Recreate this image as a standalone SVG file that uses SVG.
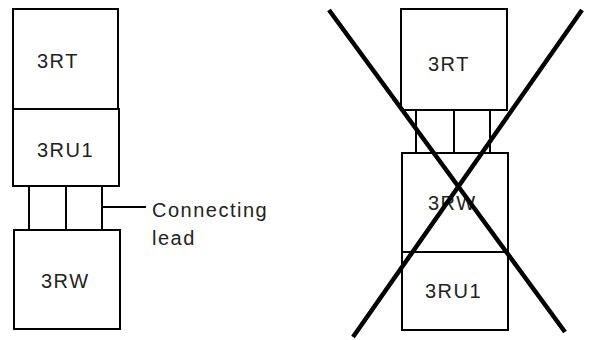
<svg xmlns="http://www.w3.org/2000/svg" width="592" height="340" viewBox="0 0 592 340">
  <style>
    .box { fill: #fff; stroke: #000; stroke-width: 2; }
    .lead { stroke: #000; stroke-width: 2; fill: none; }
    .cross { stroke: #000; stroke-width: 4.5; fill: none; }
    .lbl { font-family: "Liberation Sans", Arial, sans-serif; font-size: 20px; letter-spacing: 1.5px; fill: #222; }
  </style>
  <rect width="592" height="340" fill="#fff"/>

  <!-- correct arrangement -->
  <g id="connectors-left">
    <line class="lead" x1="29" y1="186" x2="29" y2="230"/>
    <line class="lead" x1="66" y1="186" x2="66" y2="230"/>
    <line class="lead" x1="102" y1="186" x2="102" y2="231"/>
    <line class="lead" x1="103" y1="207" x2="146" y2="207"/>
  </g>
  <g id="left-3RT">
    <rect class="box" x="13" y="9" width="105" height="100"/>
    <text class="lbl" x="37" y="68">3RT</text>
  </g>
  <g id="left-3RU1">
    <rect class="box" x="13" y="109" width="106" height="77"/>
    <text class="lbl" x="37" y="157">3RU1</text>
  </g>
  <g id="left-3RW">
    <rect class="box" x="14" y="230" width="106" height="99"/>
    <text class="lbl" x="41" y="288">3RW</text>
  </g>
  <g id="lead-label">
    <text class="lbl" x="152" y="217">Connecting</text>
    <text class="lbl" x="152" y="245">lead</text>
  </g>

  <!-- wrong arrangement -->
  <g id="connectors-right">
    <line class="lead" x1="416" y1="110" x2="416" y2="153"/>
    <line class="lead" x1="454" y1="110" x2="454" y2="153"/>
    <line class="lead" x1="490" y1="110" x2="490" y2="155"/>
  </g>
  <g id="right-3RT">
    <rect class="box" x="401" y="9" width="106" height="101"/>
    <text class="lbl" x="428" y="71">3RT</text>
  </g>
  <g id="right-3RW">
    <rect class="box" x="402" y="153" width="106" height="99"/>
    <text class="lbl" x="428" y="210">3RW</text>
  </g>
  <g id="right-3RU1">
    <rect class="box" x="402" y="252" width="106" height="78"/>
    <text class="lbl" x="425" y="298">3RU1</text>
  </g>
  <g id="cross">
    <line class="cross" x1="329" y1="10" x2="565" y2="332"/>
    <line class="cross" x1="582" y1="10" x2="353" y2="337"/>
  </g>
</svg>
